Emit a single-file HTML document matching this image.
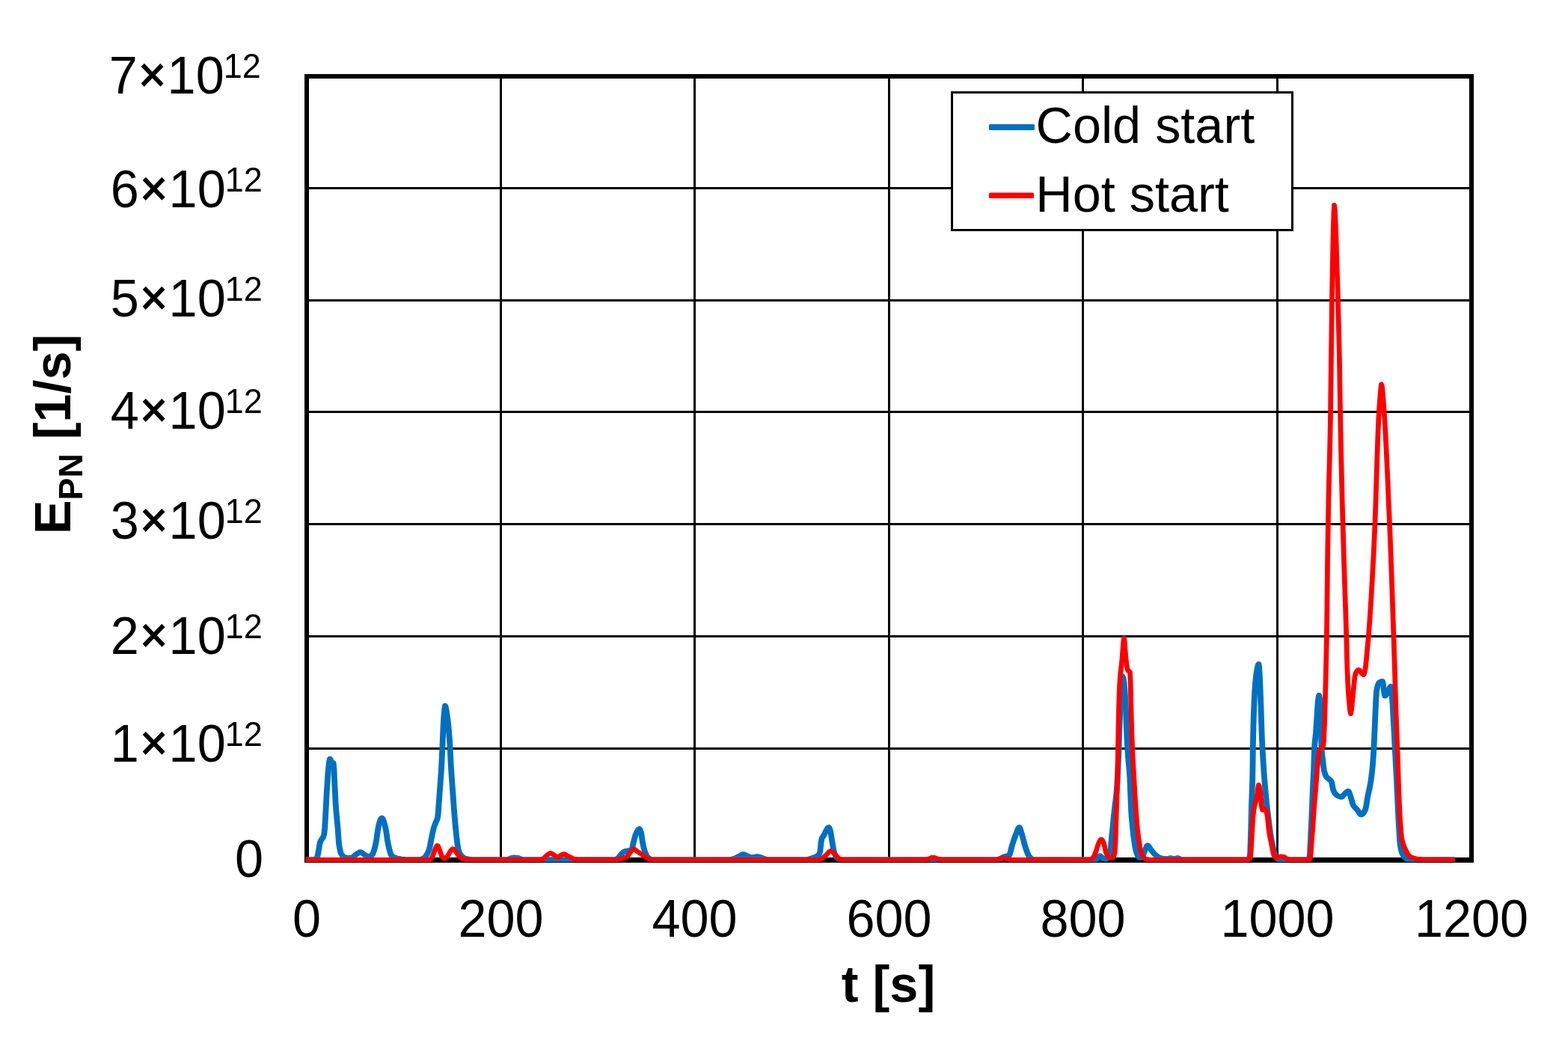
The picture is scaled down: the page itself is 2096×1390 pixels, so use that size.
<!DOCTYPE html>
<html lang="en"><head><meta charset="utf-8"><title>PN emission rate over time: cold start vs hot start</title>
<style>
html,body{margin:0;padding:0;background:#fff;}
body{width:2096px;height:1390px;overflow:hidden;}
svg{display:block;}
text{font-family:"Liberation Sans",sans-serif;fill:#000;font-size:68.4px;}
.b{font-weight:bold;}
.sup{font-size:45px;}
.sub{font-size:44.7px;}
.x{font-size:62.8px;stroke:#000;stroke-width:1.4px;}
</style></head><body>
<svg width="2096" height="1390" viewBox="0 0 2096 1390">
<defs><clipPath id="plotclip"><rect x="400" y="90" width="1580" height="1062"/></clipPath></defs>
<rect x="0" y="0" width="2096" height="1390" fill="#fff"/>
<g fill="#000" shape-rendering="crispEdges">
<rect x="668" y="102" width="3" height="1048"/>
<rect x="927" y="102" width="3" height="1048"/>
<rect x="1187" y="102" width="3" height="1048"/>
<rect x="1446" y="102" width="3" height="1048"/>
<rect x="1706" y="102" width="3" height="1048"/>
<rect x="410" y="250" width="1557" height="3"/>
<rect x="410" y="400" width="1557" height="3"/>
<rect x="410" y="549" width="1557" height="3"/>
<rect x="410" y="699" width="1557" height="3"/>
<rect x="410" y="849" width="1557" height="3"/>
<rect x="410" y="999" width="1557" height="3"/>
<rect x="407" y="99" width="1563" height="6"/>
<rect x="407" y="1146" width="1563" height="7"/>
<rect x="407" y="99" width="6" height="1054"/>
<rect x="1964" y="99" width="6" height="1054"/>
</g>
<g fill="none" stroke="#0070c0" stroke-width="7" stroke-linejoin="round" stroke-linecap="butt" clip-path="url(#plotclip)">
<polyline points="408.6,1149 419.6,1149 420.6,1148.8 421.5,1148.1 422.5,1147.2 423.4,1146 424.3,1143.5 425.1,1139.1 426,1133.9 426.8,1128.9 427.7,1125.4 428.6,1123.4 429.4,1122 430.3,1120.9 431.2,1119.7 432,1117.8 432.9,1115 433.8,1106.3 434.6,1092.6 435.5,1075.4 436.4,1058 437.3,1044.5 438.1,1032.5 439,1023.6 439.8,1017.3 440.6,1014.2 441.4,1015.3 442.1,1017.5 442.9,1019 443.7,1019.3 444.5,1019.5 445.3,1020 446,1027.6 446.6,1040.8 447.5,1058.7 448.3,1075.4 449.1,1085.4 449.9,1093.5 450.6,1101.2 451.4,1110 452,1119.3 452.6,1127 453.6,1133.6 454.6,1138.2 455.6,1141 456.5,1142.5 457.4,1143.8 458.2,1144.8 459.1,1145.5 460,1145.9 461,1146.1 461.9,1146.2 462.9,1146.3 463.8,1146.5 464.8,1146.5 465.7,1146.6 466.7,1146.7 467.6,1146.7 468.6,1146.7 469.6,1146.5 470.6,1146 471.6,1145.3 472.6,1144.4 473.6,1143.5 474.6,1142.7 475.6,1142 476.6,1141.4 477.6,1140.7 478.6,1140.1 479.6,1139.5 480.6,1139.1 481.6,1139 482.6,1139.2 483.6,1139.8 484.6,1140.5 485.6,1141.3 486.6,1142 487.5,1142.7 488.4,1143.5 489.3,1144.2 490.2,1144.8 491.1,1145 492,1144.9 492.9,1144.7 493.9,1144.4 494.8,1144 495.7,1143.6 496.6,1143 497.5,1141.9 498.4,1140 499.3,1137.4 500.2,1134.3 501.1,1130.8 502,1127 502.9,1122 503.7,1115.6 504.6,1110 505.6,1104.8 506.6,1100.2 507.6,1097 508.4,1095.2 509.3,1093.9 510.1,1093.3 510.9,1094 511.8,1095.8 512.6,1098 513.6,1101.1 514.6,1105.2 515.6,1110 516.5,1115.5 517.3,1121.8 518.2,1127 519.1,1130.9 519.9,1134.6 520.8,1138 521.7,1140.8 522.5,1142.8 523.4,1144 524.4,1144.7 525.4,1145.3 526.3,1145.8 527.3,1146.2 528.3,1146.6 529.3,1146.9 530.3,1147.2 531.3,1147.5 532.2,1147.7 533.2,1147.8 534.2,1148 535.1,1148.1 536.1,1148.3 537,1148.4 538,1148.5 538.9,1148.6 539.9,1148.7 540.8,1148.8 541.8,1148.9 542.7,1149 543.7,1149 544.6,1149 559.6,1149 560.5,1148.9 561.5,1148.8 562.4,1148.6 563.3,1148.3 564.2,1147.9 565.2,1147.5 566.1,1147 567,1146.4 567.9,1145.4 568.7,1144.3 569.6,1143 570.6,1141.5 571.5,1139.7 572.4,1137.6 573.4,1135 574.3,1131.6 575.1,1127.1 576,1122.2 576.9,1117.7 577.8,1113.5 578.7,1109.5 579.6,1106 580.6,1103 581.6,1100.4 582.4,1098.5 583.2,1096.9 584,1094.9 584.8,1091.8 585.5,1084.6 586.2,1074.5 586.8,1066.4 587.4,1058 588.1,1049.1 588.7,1040 589.3,1032.2 589.8,1023.6 590.6,1007 591.4,989 592.1,971.8 592.9,958 593.8,948 594.6,943.3 595.4,945.2 596.3,949.7 597.1,955 598,961.2 598.9,968.9 599.7,978.1 600.6,989 601.5,1005.6 602.4,1023.6 603.2,1035.9 604,1047.1 604.8,1058 605.7,1070 606.5,1081.8 607.4,1092.6 608.2,1102.1 609.1,1110.9 609.9,1118.5 610.7,1125.5 611.6,1131.7 612.4,1135.8 613.2,1138.2 614.1,1140.2 614.9,1141.8 615.8,1143.1 616.6,1144 617.6,1144.9 618.5,1145.7 619.5,1146.3 620.4,1146.9 621.4,1147.3 622.3,1147.6 623.2,1147.8 624.2,1148 625.1,1148.1 626.1,1148.3 627,1148.4 628,1148.6 628.9,1148.7 629.9,1148.8 630.8,1148.9 631.8,1148.9 632.7,1149 633.7,1149 634.6,1149 677.6,1149 678.6,1148.8 679.6,1148.4 680.6,1147.9 681.6,1147.4 682.6,1147 683.4,1146.8 684.3,1146.6 685.1,1146.5 686,1146.3 686.8,1146.3 687.8,1146.3 688.7,1146.4 689.7,1146.5 690.7,1146.7 691.6,1146.8 692.6,1147 693.6,1147.2 694.6,1147.6 695.6,1148 696.6,1148.3 697.6,1148.7 698.6,1148.9 699.6,1149 821.6,1149 822.6,1148.8 823.6,1148.3 824.6,1147.7 825.6,1147 826.6,1146.1 827.6,1144.8 828.6,1143.4 829.6,1142.1 830.6,1141 831.6,1140.1 832.6,1139.2 833.6,1138.5 834.6,1138 835.6,1137.7 836.6,1137.5 837.6,1137.4 838.6,1137.2 839.6,1137 840.5,1136.8 841.4,1136.6 842.3,1136.4 843.2,1136 844.1,1135.5 844.9,1133.5 845.6,1129.7 846.4,1126 847.2,1122.8 848,1119.7 848.8,1117 849.7,1114.4 850.7,1112.2 851.6,1110.5 852.5,1109.3 853.4,1108.3 854.3,1107.9 855.1,1108.7 855.8,1110.5 856.6,1113 857.6,1119.1 858.6,1126 859.5,1130.3 860.4,1134.2 861.3,1137.4 862.2,1140 863.1,1142 863.9,1143.7 864.8,1145.1 865.6,1146 866.6,1146.8 867.6,1147.5 868.6,1148.1 869.6,1148.6 870.6,1148.9 871.6,1149 974.6,1149 975.6,1148.9 976.6,1148.8 977.6,1148.5 978.6,1148.3 979.6,1148 980.6,1147.7 981.6,1147.3 982.6,1146.9 983.6,1146.4 984.6,1145.9 985.6,1145.5 986.6,1145 987.6,1144.5 988.5,1144 989.5,1143.4 990.4,1142.9 991.4,1142.4 992.3,1142.1 993.3,1142 994.2,1142.1 995.1,1142.4 996,1142.7 996.8,1143.2 997.7,1143.6 998.6,1144 999.6,1144.5 1000.6,1145 1001.6,1145.5 1002.6,1145.9 1003.6,1146 1004.5,1146 1005.4,1145.9 1006.4,1145.7 1007.3,1145.6 1008.2,1145.4 1009.1,1145.3 1010.1,1145.1 1011,1145 1011.9,1145 1012.9,1145.1 1013.8,1145.2 1014.8,1145.4 1015.8,1145.7 1016.7,1146.1 1017.7,1146.4 1018.6,1146.7 1019.6,1147 1020.6,1147.3 1021.6,1147.7 1022.6,1148.1 1023.6,1148.4 1024.6,1148.7 1025.6,1148.9 1026.6,1149 1077.6,1149 1078.6,1148.9 1079.6,1148.6 1080.6,1148.3 1081.6,1148 1082.6,1147.7 1083.6,1147.4 1084.6,1147.1 1085.6,1146.7 1086.6,1146.4 1087.6,1146 1088.5,1145.7 1089.4,1145.4 1090.3,1145 1091.3,1144.6 1092.2,1144.1 1093.1,1143.5 1094,1142.5 1095,1140.8 1095.9,1138 1096.5,1132.4 1097.1,1126 1097.8,1122.3 1098.4,1120 1099.3,1118.6 1100.2,1117.5 1101,1116 1101.9,1114.3 1102.8,1112.5 1103.6,1111 1104.5,1109.3 1105.5,1107.6 1106.4,1106.3 1107.4,1105.8 1108.2,1106.7 1109.1,1109.1 1109.9,1112 1110.6,1115.9 1111.4,1121.2 1112.1,1126 1113.1,1131.4 1114,1136.4 1115,1140 1115.9,1142.2 1116.8,1144.1 1117.7,1145.6 1118.6,1146.5 1119.6,1147.2 1120.6,1147.8 1121.6,1148.3 1122.6,1148.7 1123.6,1148.9 1124.6,1149 1331.6,1149 1332.6,1148.9 1333.6,1148.7 1334.6,1148.3 1335.6,1148 1336.5,1147.6 1337.5,1147.2 1338.4,1146.7 1339.4,1146.2 1340.3,1145.7 1341.3,1145.3 1342.2,1145 1343.1,1144.8 1344,1144.6 1344.9,1144.4 1345.8,1144.1 1346.7,1143.9 1347.6,1143.5 1348.5,1143 1349.4,1141.6 1350.2,1139 1351.1,1135.6 1351.9,1132.1 1352.8,1129 1353.8,1126 1354.7,1123 1355.7,1120.2 1356.6,1117.5 1357.6,1115 1358.5,1112.7 1359.4,1110.2 1360.3,1108 1361.2,1106.4 1362.1,1105.8 1363,1106.7 1363.8,1109.1 1364.7,1112 1365.6,1115 1366.6,1118.5 1367.6,1122.5 1368.6,1126.5 1369.6,1130 1370.6,1133.1 1371.6,1136.1 1372.6,1139 1373.6,1141.5 1374.6,1143.6 1375.6,1145 1376.6,1146 1377.6,1147 1378.6,1147.8 1379.6,1148.4 1380.6,1148.8 1381.6,1149 1463.6,1149 1464.6,1148.6 1465.6,1147.9 1466.6,1147 1467.4,1146.2 1468.3,1145.2 1469.2,1144.3 1470,1144 1470.9,1144.4 1471.8,1145.3 1472.7,1146.3 1473.6,1147 1474.6,1147.4 1475.6,1147.7 1476.6,1147.9 1477.6,1148 1478.5,1147.8 1479.3,1147.4 1480.2,1146.8 1481.1,1146 1482.1,1144.8 1483.1,1142.7 1484.1,1139 1485,1126 1485.8,1117.1 1486.7,1109 1487.6,1100.2 1488.4,1091.4 1489.3,1083 1490.3,1074.7 1491.3,1066.8 1492.3,1057 1492.8,1049.4 1493.4,1040 1494.2,1022.7 1495.1,1002 1496.1,970.7 1497.1,940 1497.7,925.3 1498.3,915 1499.2,907.3 1500.1,904 1501.1,906.5 1502.1,912 1502.9,920.8 1503.8,933.6 1504.6,949 1505.3,968.1 1506.1,987.3 1506.9,1002.6 1507.7,1012.8 1508.4,1020.8 1509.2,1029.1 1510,1040 1510.8,1061.6 1511.7,1083 1512.4,1093.5 1513.2,1101.8 1513.9,1109 1514.6,1115.6 1515.4,1121.3 1516.1,1126.3 1516.9,1131.4 1517.8,1135.9 1518.6,1139 1519.6,1141.6 1520.6,1143.9 1521.6,1145.4 1522.6,1146 1525.6,1146 1526.6,1145.1 1527.6,1143 1528.6,1140.4 1529.6,1138 1530.6,1135.6 1531.6,1133 1532.6,1130.9 1533.6,1130 1534.6,1130.6 1535.6,1131.9 1536.6,1133.5 1537.6,1135 1538.6,1136.2 1539.6,1137.5 1540.6,1138.8 1541.6,1140 1542.6,1141.1 1543.6,1142.1 1544.6,1143 1545.6,1143.8 1546.6,1144.5 1547.6,1145.2 1548.6,1145.8 1549.6,1146.3 1550.6,1146.7 1551.6,1147 1552.6,1147.2 1553.6,1147.4 1554.6,1147.6 1555.6,1147.7 1556.6,1147.8 1557.6,1147.9 1558.6,1148 1559.6,1148 1560.5,1147.9 1561.4,1147.6 1562.3,1147.4 1563.2,1147.1 1564.1,1147 1565,1147.1 1565.9,1147.4 1566.8,1147.6 1567.7,1147.9 1568.6,1148 1569.6,1147.9 1570.6,1147.6 1571.6,1147.4 1572.6,1147.1 1573.6,1147 1574.6,1147.1 1575.6,1147.5 1576.6,1148 1577.6,1148.5 1578.6,1148.9 1579.6,1149 1666.1,1149 1666.9,1148.9 1667.8,1148.6 1668.6,1148.2 1669.4,1147.5 1670.1,1145.2 1670.8,1140 1671.8,1109 1672.6,1076 1673.2,1059.3 1673.9,1040 1674.6,989.6 1675.3,960.6 1676.1,939.2 1676.8,924.8 1677.7,912.4 1678.7,903.3 1679.6,897 1680.5,892.5 1681.3,889 1682.2,887.6 1682.9,893.7 1683.7,908.2 1684.4,924.8 1685.1,945.3 1685.9,969.7 1686.6,989.6 1687.5,1006.2 1688.4,1020.8 1689.2,1033.6 1690.1,1045 1691,1055.3 1691.9,1065 1692.8,1074.3 1693.8,1082.6 1694.7,1090.3 1695.6,1097.5 1696.6,1105.2 1697.6,1112.6 1698.6,1119.4 1699.6,1125 1700.5,1129.3 1701.4,1133.5 1702.2,1137.4 1703.1,1140.7 1704,1143.3 1704.9,1145 1705.8,1146.2 1706.8,1147.3 1707.7,1148.2 1708.7,1148.8 1709.6,1149 1746.6,1149 1747.5,1148.8 1748.5,1148.3 1749.4,1147.5 1749.9,1145.7 1750.5,1142 1751.4,1125 1751.9,1113.7 1752.5,1102 1753.5,1080 1754,1065.8 1754.6,1052 1755.1,1041.6 1755.7,1030 1756.1,1016 1756.7,999 1757.2,992.2 1757.8,987 1758.5,980 1759.2,970.5 1759.9,960 1760.6,947.9 1761.4,938 1762.1,932.1 1762.8,929.3 1763.7,933.7 1764.6,945 1765.4,975 1766.1,1000 1767,1009.4 1767.9,1016 1768.8,1025 1769.4,1029.1 1770.1,1032 1771.1,1035.3 1772.1,1037.5 1772.9,1038.6 1773.8,1039.4 1774.6,1040.1 1775.5,1040.7 1776.3,1041.5 1777.1,1042.2 1777.9,1042.8 1778.8,1043.7 1779.6,1045 1780.6,1050 1781.2,1053.3 1781.9,1056 1782.7,1057.8 1783.4,1059.3 1784.2,1060.4 1785,1061.3 1785.9,1062.1 1786.8,1062.9 1787.8,1063.5 1788.7,1064 1789.6,1064.3 1790.5,1064.6 1791.3,1064.8 1792.2,1064.9 1793.1,1065 1794,1064.6 1794.8,1063.6 1795.7,1062.5 1796.6,1061.5 1797.5,1060.7 1798.4,1059.8 1799.2,1058.9 1800.1,1058.2 1801,1057.7 1801.9,1057.5 1802.7,1058.3 1803.5,1060.2 1804.3,1062.6 1805.1,1065 1805.9,1067.7 1806.8,1070.8 1807.6,1073.7 1808.4,1075.8 1809.3,1077.3 1810.2,1078.5 1811.1,1079.5 1812,1080.4 1812.9,1081.3 1813.8,1082.3 1814.7,1083.5 1815.6,1084.9 1816.5,1086.4 1817.4,1087.6 1818.3,1088.5 1819.2,1088.8 1820.1,1088.6 1821,1087.9 1821.9,1087 1822.8,1085.7 1823.7,1084.1 1824.6,1082.3 1825.4,1079.4 1826.2,1074.9 1827,1069.7 1827.8,1065 1828.7,1060.8 1829.5,1057 1830.4,1053.1 1831.2,1048.7 1832.1,1043.5 1832.9,1037.4 1833.8,1030.1 1834.6,1021.4 1835.4,1011 1836.1,998.8 1836.8,983.4 1837.5,968 1838.2,951.4 1838.9,934.7 1839.6,924.7 1840.4,920 1841.2,916.5 1842.1,914.2 1842.9,912.9 1843.8,912.1 1844.8,911.5 1845.7,911.1 1846.7,910.8 1847.6,910.7 1848.4,913.7 1849.2,920.4 1850.1,927 1850.9,930 1851.8,929.5 1852.8,928.2 1853.7,926.6 1854.6,925 1855.4,923.4 1856.3,921.4 1857.1,919.5 1858,918.1 1858.8,917.5 1859.6,921.1 1860.3,929.7 1861.1,940 1861.8,953 1862.6,968 1863.4,982.3 1864.1,996.5 1864.9,1011 1865.6,1025 1866.4,1039.3 1867.1,1054 1868.1,1076.3 1869.1,1097 1869.9,1110.5 1870.6,1122.4 1871.4,1130 1872.3,1134.7 1873.2,1138.3 1874.2,1140.9 1875.1,1142.7 1876,1144.1 1876.9,1145.3 1877.8,1146.3 1878.8,1147.1 1879.7,1147.7 1880.6,1148 1881.6,1148.2 1882.6,1148.4 1883.6,1148.5 1884.6,1148.7 1885.6,1148.8 1886.6,1148.9 1887.6,1148.9 1888.6,1149 1889.6,1149 1944.1,1149"/>
<polyline transform="translate(0.8,0)" points="408.6,1149 419.6,1149 420.6,1148.8 421.5,1148.1 422.5,1147.2 423.4,1146 424.3,1143.5 425.1,1139.1 426,1133.9 426.8,1128.9 427.7,1125.4 428.6,1123.4 429.4,1122 430.3,1120.9 431.2,1119.7 432,1117.8 432.9,1115 433.8,1106.3 434.6,1092.6 435.5,1075.4 436.4,1058 437.3,1044.5 438.1,1032.5 439,1023.6 439.8,1017.3 440.6,1014.2 441.4,1015.3 442.1,1017.5 442.9,1019 443.7,1019.3 444.5,1019.5 445.3,1020 446,1027.6 446.6,1040.8 447.5,1058.7 448.3,1075.4 449.1,1085.4 449.9,1093.5 450.6,1101.2 451.4,1110 452,1119.3 452.6,1127 453.6,1133.6 454.6,1138.2 455.6,1141 456.5,1142.5 457.4,1143.8 458.2,1144.8 459.1,1145.5 460,1145.9 461,1146.1 461.9,1146.2 462.9,1146.3 463.8,1146.5 464.8,1146.5 465.7,1146.6 466.7,1146.7 467.6,1146.7 468.6,1146.7 469.6,1146.5 470.6,1146 471.6,1145.3 472.6,1144.4 473.6,1143.5 474.6,1142.7 475.6,1142 476.6,1141.4 477.6,1140.7 478.6,1140.1 479.6,1139.5 480.6,1139.1 481.6,1139 482.6,1139.2 483.6,1139.8 484.6,1140.5 485.6,1141.3 486.6,1142 487.5,1142.7 488.4,1143.5 489.3,1144.2 490.2,1144.8 491.1,1145 492,1144.9 492.9,1144.7 493.9,1144.4 494.8,1144 495.7,1143.6 496.6,1143 497.5,1141.9 498.4,1140 499.3,1137.4 500.2,1134.3 501.1,1130.8 502,1127 502.9,1122 503.7,1115.6 504.6,1110 505.6,1104.8 506.6,1100.2 507.6,1097 508.4,1095.2 509.3,1093.9 510.1,1093.3 510.9,1094 511.8,1095.8 512.6,1098 513.6,1101.1 514.6,1105.2 515.6,1110 516.5,1115.5 517.3,1121.8 518.2,1127 519.1,1130.9 519.9,1134.6 520.8,1138 521.7,1140.8 522.5,1142.8 523.4,1144 524.4,1144.7 525.4,1145.3 526.3,1145.8 527.3,1146.2 528.3,1146.6 529.3,1146.9 530.3,1147.2 531.3,1147.5 532.2,1147.7 533.2,1147.8 534.2,1148 535.1,1148.1 536.1,1148.3 537,1148.4 538,1148.5 538.9,1148.6 539.9,1148.7 540.8,1148.8 541.8,1148.9 542.7,1149 543.7,1149 544.6,1149 559.6,1149 560.5,1148.9 561.5,1148.8 562.4,1148.6 563.3,1148.3 564.2,1147.9 565.2,1147.5 566.1,1147 567,1146.4 567.9,1145.4 568.7,1144.3 569.6,1143 570.6,1141.5 571.5,1139.7 572.4,1137.6 573.4,1135 574.3,1131.6 575.1,1127.1 576,1122.2 576.9,1117.7 577.8,1113.5 578.7,1109.5 579.6,1106 580.6,1103 581.6,1100.4 582.4,1098.5 583.2,1096.9 584,1094.9 584.8,1091.8 585.5,1084.6 586.2,1074.5 586.8,1066.4 587.4,1058 588.1,1049.1 588.7,1040 589.3,1032.2 589.8,1023.6 590.6,1007 591.4,989 592.1,971.8 592.9,958 593.8,948 594.6,943.3 595.4,945.2 596.3,949.7 597.1,955 598,961.2 598.9,968.9 599.7,978.1 600.6,989 601.5,1005.6 602.4,1023.6 603.2,1035.9 604,1047.1 604.8,1058 605.7,1070 606.5,1081.8 607.4,1092.6 608.2,1102.1 609.1,1110.9 609.9,1118.5 610.7,1125.5 611.6,1131.7 612.4,1135.8 613.2,1138.2 614.1,1140.2 614.9,1141.8 615.8,1143.1 616.6,1144 617.6,1144.9 618.5,1145.7 619.5,1146.3 620.4,1146.9 621.4,1147.3 622.3,1147.6 623.2,1147.8 624.2,1148 625.1,1148.1 626.1,1148.3 627,1148.4 628,1148.6 628.9,1148.7 629.9,1148.8 630.8,1148.9 631.8,1148.9 632.7,1149 633.7,1149 634.6,1149 677.6,1149 678.6,1148.8 679.6,1148.4 680.6,1147.9 681.6,1147.4 682.6,1147 683.4,1146.8 684.3,1146.6 685.1,1146.5 686,1146.3 686.8,1146.3 687.8,1146.3 688.7,1146.4 689.7,1146.5 690.7,1146.7 691.6,1146.8 692.6,1147 693.6,1147.2 694.6,1147.6 695.6,1148 696.6,1148.3 697.6,1148.7 698.6,1148.9 699.6,1149 821.6,1149 822.6,1148.8 823.6,1148.3 824.6,1147.7 825.6,1147 826.6,1146.1 827.6,1144.8 828.6,1143.4 829.6,1142.1 830.6,1141 831.6,1140.1 832.6,1139.2 833.6,1138.5 834.6,1138 835.6,1137.7 836.6,1137.5 837.6,1137.4 838.6,1137.2 839.6,1137 840.5,1136.8 841.4,1136.6 842.3,1136.4 843.2,1136 844.1,1135.5 844.9,1133.5 845.6,1129.7 846.4,1126 847.2,1122.8 848,1119.7 848.8,1117 849.7,1114.4 850.7,1112.2 851.6,1110.5 852.5,1109.3 853.4,1108.3 854.3,1107.9 855.1,1108.7 855.8,1110.5 856.6,1113 857.6,1119.1 858.6,1126 859.5,1130.3 860.4,1134.2 861.3,1137.4 862.2,1140 863.1,1142 863.9,1143.7 864.8,1145.1 865.6,1146 866.6,1146.8 867.6,1147.5 868.6,1148.1 869.6,1148.6 870.6,1148.9 871.6,1149 974.6,1149 975.6,1148.9 976.6,1148.8 977.6,1148.5 978.6,1148.3 979.6,1148 980.6,1147.7 981.6,1147.3 982.6,1146.9 983.6,1146.4 984.6,1145.9 985.6,1145.5 986.6,1145 987.6,1144.5 988.5,1144 989.5,1143.4 990.4,1142.9 991.4,1142.4 992.3,1142.1 993.3,1142 994.2,1142.1 995.1,1142.4 996,1142.7 996.8,1143.2 997.7,1143.6 998.6,1144 999.6,1144.5 1000.6,1145 1001.6,1145.5 1002.6,1145.9 1003.6,1146 1004.5,1146 1005.4,1145.9 1006.4,1145.7 1007.3,1145.6 1008.2,1145.4 1009.1,1145.3 1010.1,1145.1 1011,1145 1011.9,1145 1012.9,1145.1 1013.8,1145.2 1014.8,1145.4 1015.8,1145.7 1016.7,1146.1 1017.7,1146.4 1018.6,1146.7 1019.6,1147 1020.6,1147.3 1021.6,1147.7 1022.6,1148.1 1023.6,1148.4 1024.6,1148.7 1025.6,1148.9 1026.6,1149 1077.6,1149 1078.6,1148.9 1079.6,1148.6 1080.6,1148.3 1081.6,1148 1082.6,1147.7 1083.6,1147.4 1084.6,1147.1 1085.6,1146.7 1086.6,1146.4 1087.6,1146 1088.5,1145.7 1089.4,1145.4 1090.3,1145 1091.3,1144.6 1092.2,1144.1 1093.1,1143.5 1094,1142.5 1095,1140.8 1095.9,1138 1096.5,1132.4 1097.1,1126 1097.8,1122.3 1098.4,1120 1099.3,1118.6 1100.2,1117.5 1101,1116 1101.9,1114.3 1102.8,1112.5 1103.6,1111 1104.5,1109.3 1105.5,1107.6 1106.4,1106.3 1107.4,1105.8 1108.2,1106.7 1109.1,1109.1 1109.9,1112 1110.6,1115.9 1111.4,1121.2 1112.1,1126 1113.1,1131.4 1114,1136.4 1115,1140 1115.9,1142.2 1116.8,1144.1 1117.7,1145.6 1118.6,1146.5 1119.6,1147.2 1120.6,1147.8 1121.6,1148.3 1122.6,1148.7 1123.6,1148.9 1124.6,1149 1331.6,1149 1332.6,1148.9 1333.6,1148.7 1334.6,1148.3 1335.6,1148 1336.5,1147.6 1337.5,1147.2 1338.4,1146.7 1339.4,1146.2 1340.3,1145.7 1341.3,1145.3 1342.2,1145 1343.1,1144.8 1344,1144.6 1344.9,1144.4 1345.8,1144.1 1346.7,1143.9 1347.6,1143.5 1348.5,1143 1349.4,1141.6 1350.2,1139 1351.1,1135.6 1351.9,1132.1 1352.8,1129 1353.8,1126 1354.7,1123 1355.7,1120.2 1356.6,1117.5 1357.6,1115 1358.5,1112.7 1359.4,1110.2 1360.3,1108 1361.2,1106.4 1362.1,1105.8 1363,1106.7 1363.8,1109.1 1364.7,1112 1365.6,1115 1366.6,1118.5 1367.6,1122.5 1368.6,1126.5 1369.6,1130 1370.6,1133.1 1371.6,1136.1 1372.6,1139 1373.6,1141.5 1374.6,1143.6 1375.6,1145 1376.6,1146 1377.6,1147 1378.6,1147.8 1379.6,1148.4 1380.6,1148.8 1381.6,1149 1463.6,1149 1464.6,1148.6 1465.6,1147.9 1466.6,1147 1467.4,1146.2 1468.3,1145.2 1469.2,1144.3 1470,1144 1470.9,1144.4 1471.8,1145.3 1472.7,1146.3 1473.6,1147 1474.6,1147.4 1475.6,1147.7 1476.6,1147.9 1477.6,1148 1478.5,1147.8 1479.3,1147.4 1480.2,1146.8 1481.1,1146 1482.1,1144.8 1483.1,1142.7 1484.1,1139 1485,1126 1485.8,1117.1 1486.7,1109 1487.6,1100.2 1488.4,1091.4 1489.3,1083 1490.3,1074.7 1491.3,1066.8 1492.3,1057 1492.8,1049.4 1493.4,1040 1494.2,1022.7 1495.1,1002 1496.1,970.7 1497.1,940 1497.7,925.3 1498.3,915 1499.2,907.3 1500.1,904 1501.1,906.5 1502.1,912 1502.9,920.8 1503.8,933.6 1504.6,949 1505.3,968.1 1506.1,987.3 1506.9,1002.6 1507.7,1012.8 1508.4,1020.8 1509.2,1029.1 1510,1040 1510.8,1061.6 1511.7,1083 1512.4,1093.5 1513.2,1101.8 1513.9,1109 1514.6,1115.6 1515.4,1121.3 1516.1,1126.3 1516.9,1131.4 1517.8,1135.9 1518.6,1139 1519.6,1141.6 1520.6,1143.9 1521.6,1145.4 1522.6,1146 1525.6,1146 1526.6,1145.1 1527.6,1143 1528.6,1140.4 1529.6,1138 1530.6,1135.6 1531.6,1133 1532.6,1130.9 1533.6,1130 1534.6,1130.6 1535.6,1131.9 1536.6,1133.5 1537.6,1135 1538.6,1136.2 1539.6,1137.5 1540.6,1138.8 1541.6,1140 1542.6,1141.1 1543.6,1142.1 1544.6,1143 1545.6,1143.8 1546.6,1144.5 1547.6,1145.2 1548.6,1145.8 1549.6,1146.3 1550.6,1146.7 1551.6,1147 1552.6,1147.2 1553.6,1147.4 1554.6,1147.6 1555.6,1147.7 1556.6,1147.8 1557.6,1147.9 1558.6,1148 1559.6,1148 1560.5,1147.9 1561.4,1147.6 1562.3,1147.4 1563.2,1147.1 1564.1,1147 1565,1147.1 1565.9,1147.4 1566.8,1147.6 1567.7,1147.9 1568.6,1148 1569.6,1147.9 1570.6,1147.6 1571.6,1147.4 1572.6,1147.1 1573.6,1147 1574.6,1147.1 1575.6,1147.5 1576.6,1148 1577.6,1148.5 1578.6,1148.9 1579.6,1149 1666.1,1149 1666.9,1148.9 1667.8,1148.6 1668.6,1148.2 1669.4,1147.5 1670.1,1145.2 1670.8,1140 1671.8,1109 1672.6,1076 1673.2,1059.3 1673.9,1040 1674.6,989.6 1675.3,960.6 1676.1,939.2 1676.8,924.8 1677.7,912.4 1678.7,903.3 1679.6,897 1680.5,892.5 1681.3,889 1682.2,887.6 1682.9,893.7 1683.7,908.2 1684.4,924.8 1685.1,945.3 1685.9,969.7 1686.6,989.6 1687.5,1006.2 1688.4,1020.8 1689.2,1033.6 1690.1,1045 1691,1055.3 1691.9,1065 1692.8,1074.3 1693.8,1082.6 1694.7,1090.3 1695.6,1097.5 1696.6,1105.2 1697.6,1112.6 1698.6,1119.4 1699.6,1125 1700.5,1129.3 1701.4,1133.5 1702.2,1137.4 1703.1,1140.7 1704,1143.3 1704.9,1145 1705.8,1146.2 1706.8,1147.3 1707.7,1148.2 1708.7,1148.8 1709.6,1149 1746.6,1149 1747.5,1148.8 1748.5,1148.3 1749.4,1147.5 1749.9,1145.7 1750.5,1142 1751.4,1125 1751.9,1113.7 1752.5,1102 1753.5,1080 1754,1065.8 1754.6,1052 1755.1,1041.6 1755.7,1030 1756.1,1016 1756.7,999 1757.2,992.2 1757.8,987 1758.5,980 1759.2,970.5 1759.9,960 1760.6,947.9 1761.4,938 1762.1,932.1 1762.8,929.3 1763.7,933.7 1764.6,945 1765.4,975 1766.1,1000 1767,1009.4 1767.9,1016 1768.8,1025 1769.4,1029.1 1770.1,1032 1771.1,1035.3 1772.1,1037.5 1772.9,1038.6 1773.8,1039.4 1774.6,1040.1 1775.5,1040.7 1776.3,1041.5 1777.1,1042.2 1777.9,1042.8 1778.8,1043.7 1779.6,1045 1780.6,1050 1781.2,1053.3 1781.9,1056 1782.7,1057.8 1783.4,1059.3 1784.2,1060.4 1785,1061.3 1785.9,1062.1 1786.8,1062.9 1787.8,1063.5 1788.7,1064 1789.6,1064.3 1790.5,1064.6 1791.3,1064.8 1792.2,1064.9 1793.1,1065 1794,1064.6 1794.8,1063.6 1795.7,1062.5 1796.6,1061.5 1797.5,1060.7 1798.4,1059.8 1799.2,1058.9 1800.1,1058.2 1801,1057.7 1801.9,1057.5 1802.7,1058.3 1803.5,1060.2 1804.3,1062.6 1805.1,1065 1805.9,1067.7 1806.8,1070.8 1807.6,1073.7 1808.4,1075.8 1809.3,1077.3 1810.2,1078.5 1811.1,1079.5 1812,1080.4 1812.9,1081.3 1813.8,1082.3 1814.7,1083.5 1815.6,1084.9 1816.5,1086.4 1817.4,1087.6 1818.3,1088.5 1819.2,1088.8 1820.1,1088.6 1821,1087.9 1821.9,1087 1822.8,1085.7 1823.7,1084.1 1824.6,1082.3 1825.4,1079.4 1826.2,1074.9 1827,1069.7 1827.8,1065 1828.7,1060.8 1829.5,1057 1830.4,1053.1 1831.2,1048.7 1832.1,1043.5 1832.9,1037.4 1833.8,1030.1 1834.6,1021.4 1835.4,1011 1836.1,998.8 1836.8,983.4 1837.5,968 1838.2,951.4 1838.9,934.7 1839.6,924.7 1840.4,920 1841.2,916.5 1842.1,914.2 1842.9,912.9 1843.8,912.1 1844.8,911.5 1845.7,911.1 1846.7,910.8 1847.6,910.7 1848.4,913.7 1849.2,920.4 1850.1,927 1850.9,930 1851.8,929.5 1852.8,928.2 1853.7,926.6 1854.6,925 1855.4,923.4 1856.3,921.4 1857.1,919.5 1858,918.1 1858.8,917.5 1859.6,921.1 1860.3,929.7 1861.1,940 1861.8,953 1862.6,968 1863.4,982.3 1864.1,996.5 1864.9,1011 1865.6,1025 1866.4,1039.3 1867.1,1054 1868.1,1076.3 1869.1,1097 1869.9,1110.5 1870.6,1122.4 1871.4,1130 1872.3,1134.7 1873.2,1138.3 1874.2,1140.9 1875.1,1142.7 1876,1144.1 1876.9,1145.3 1877.8,1146.3 1878.8,1147.1 1879.7,1147.7 1880.6,1148 1881.6,1148.2 1882.6,1148.4 1883.6,1148.5 1884.6,1148.7 1885.6,1148.8 1886.6,1148.9 1887.6,1148.9 1888.6,1149 1889.6,1149 1944.1,1149"/>
</g>
<g fill="none" stroke="#ff0000" stroke-width="6" stroke-linejoin="round" stroke-linecap="butt" clip-path="url(#plotclip)">
<polyline points="408.6,1149 573.6,1149 574.5,1148.7 575.4,1148.1 576.3,1147.1 577.1,1146 578,1144.3 578.9,1141.9 579.8,1139.3 580.6,1137 581.5,1134.8 582.4,1132.5 583.4,1130.7 584.2,1130 585.1,1130.7 585.9,1132.5 586.8,1134.8 587.6,1137 588.6,1139.9 589.6,1142.9 590.6,1145 591.5,1146 592.4,1146.8 593.3,1147.3 594.1,1147.5 595,1147.2 595.9,1146.5 596.9,1145.4 597.8,1144.2 598.6,1143 599.5,1141.6 600.4,1139.9 601.3,1138.3 602.1,1137 602.9,1136.1 603.7,1135.3 604.5,1134.7 605.2,1134.5 606.1,1134.9 606.9,1135.8 607.8,1136.9 608.6,1138 609.6,1139.3 610.6,1140.7 611.6,1142.2 612.6,1143.5 613.6,1144.5 614.6,1145.3 615.6,1146.1 616.6,1146.8 617.6,1147.4 618.6,1147.9 619.6,1148.3 620.6,1148.5 621.6,1148.6 622.6,1148.7 623.6,1148.8 624.6,1148.8 625.6,1148.9 626.6,1148.9 627.6,1149 628.6,1149 629.6,1149 721.6,1149 722.6,1148.9 723.6,1148.7 724.6,1148.4 725.6,1148 726.6,1147.3 727.6,1146.2 728.6,1145 729.6,1144 730.6,1143.2 731.6,1142.4 732.6,1141.6 733.6,1140.9 734.6,1140.5 735.5,1140.3 736.4,1140.4 737.2,1140.8 738.1,1141.3 738.9,1141.8 739.8,1142.4 740.6,1143 741.5,1143.6 742.3,1144.4 743.2,1145.2 744,1145.8 744.9,1146 745.8,1145.7 746.8,1145 747.7,1144.2 748.6,1143.5 749.6,1143 750.6,1142.4 751.5,1142 752.5,1141.6 753.4,1141.5 754.3,1141.6 755.2,1142 756,1142.4 756.9,1143 757.8,1143.5 758.6,1144 759.6,1144.5 760.6,1145 761.6,1145.5 762.6,1146 763.6,1146.5 764.6,1147 765.6,1147.5 766.5,1147.9 767.5,1148.3 768.4,1148.5 769.3,1148.6 770.2,1148.7 771.1,1148.8 772,1148.9 772.9,1149 773.8,1149 774.6,1149 821.6,1149 822.6,1149 823.6,1148.8 824.6,1148.7 825.6,1148.5 826.6,1148.3 827.6,1148.1 828.5,1147.8 829.5,1147.6 830.5,1147.3 831.4,1147 832.3,1146.8 833.2,1146.5 834.1,1146.3 835,1146.1 835.9,1145.8 836.8,1145.4 837.6,1145 838.6,1144.1 839.6,1142.8 840.6,1141.3 841.6,1140 842.6,1138.7 843.6,1137.3 844.5,1136 845.5,1135 846.4,1134.6 847.3,1134.8 848.2,1135.2 849,1135.9 849.9,1136.6 850.8,1137.4 851.6,1138 852.6,1138.7 853.6,1139.3 854.6,1140 855.6,1140.7 856.6,1141.3 857.6,1142 858.6,1142.7 859.6,1143.4 860.6,1144.1 861.6,1144.8 862.6,1145.4 863.6,1146 864.6,1146.6 865.6,1147.2 866.6,1147.8 867.6,1148.2 868.6,1148.5 869.6,1148.6 870.6,1148.8 871.6,1148.9 872.6,1148.9 873.6,1149 874.6,1149 1092.7,1149 1093.6,1148.9 1094.5,1148.8 1095.4,1148.6 1096.2,1148.3 1097.2,1148 1098.1,1147.6 1099,1147 1099.9,1146.3 1100.9,1145.5 1101.8,1144.6 1102.7,1143.8 1103.7,1143 1104.6,1142.1 1105.5,1141.2 1106.4,1140.1 1107.3,1139.1 1108.2,1138.3 1109.1,1137.7 1110.1,1137.5 1111,1137.7 1111.9,1138.3 1112.9,1139.2 1113.8,1140.1 1114.7,1141.1 1115.7,1142 1116.6,1142.8 1117.5,1143.8 1118.4,1144.8 1119.2,1145.9 1120.2,1146.8 1121.1,1147.6 1122,1148.2 1122.9,1148.5 1123.8,1148.7 1124.8,1148.8 1125.7,1148.9 1126.7,1149 1127.7,1149 1235.7,1149 1236.7,1149 1237.7,1148.8 1238.7,1148.7 1239.7,1148.5 1240.6,1148.2 1241.5,1147.8 1242.5,1147.3 1243.4,1146.9 1244.4,1146.4 1245.3,1146.1 1246.2,1146 1247.2,1146.1 1248.1,1146.2 1249.1,1146.4 1250,1146.7 1251,1147.1 1251.9,1147.4 1252.8,1147.7 1253.8,1148 1254.7,1148.3 1255.7,1148.5 1256.7,1148.7 1257.7,1148.8 1258.7,1149 1259.7,1149 1331.7,1149 1332.6,1148.9 1333.6,1148.8 1334.6,1148.6 1335.5,1148.3 1336.5,1148 1337.5,1147.7 1338.4,1147.4 1339.4,1147.2 1340.4,1147.1 1341.4,1147 1342.3,1147 1343.2,1147.1 1344.1,1147.3 1345,1147.5 1346,1147.7 1346.9,1148 1347.8,1148.2 1348.7,1148.4 1349.7,1148.5 1350.7,1148.6 1351.7,1148.8 1352.7,1148.9 1353.7,1149 1354.7,1149 1455.7,1149 1456.6,1148.9 1457.5,1148.6 1458.4,1148.2 1459.3,1147.6 1460.2,1147 1461.1,1146 1462,1144.4 1462.9,1142.4 1463.8,1140.2 1464.7,1138 1465.5,1135.4 1466.4,1132.3 1467.3,1129.3 1468.2,1127 1469.1,1125.2 1470,1123.4 1470.8,1122.2 1471.8,1121.7 1472.6,1122.2 1473.5,1123.4 1474.3,1125.1 1475.2,1127 1476.2,1130.9 1477.2,1136.1 1478.2,1140 1479,1141.8 1479.8,1143.4 1480.6,1144.6 1481.4,1145.6 1482.2,1146 1483.1,1146.2 1484,1146.3 1484.9,1146.4 1485.8,1146.5 1486.7,1146.5 1487.4,1146.1 1488.2,1144.9 1489,1142.9 1489.8,1140 1490.7,1126.3 1491.3,1106.5 1492,1083.2 1492.7,1063.7 1493.5,1040 1494.1,1002 1494.8,966 1495.5,935.7 1496.2,916 1497.1,903.8 1498,895.2 1498.8,888 1499.7,880 1500.5,868.9 1501.3,857.7 1502.2,852.6 1503,858.2 1503.8,869.9 1504.7,880 1505.5,886.9 1506.3,892.8 1507.2,896 1508.2,896.9 1509.2,897.3 1510.2,898.5 1510.9,915.6 1511.7,950.8 1512.5,979.7 1513.4,1002.6 1514.1,1016.7 1514.8,1028.5 1515.5,1040 1516.3,1055.1 1517.2,1069.9 1518.1,1083 1518.8,1092.7 1519.5,1101.4 1520.2,1109 1521,1115.6 1521.7,1121.3 1522.5,1126.3 1523.3,1131.3 1524.1,1135.7 1525,1139 1525.9,1141.6 1526.8,1143.6 1527.7,1145 1528.6,1146 1529.5,1147 1530.5,1147.7 1531.4,1148.2 1532.4,1148.5 1533.3,1148.6 1534.2,1148.7 1535.1,1148.8 1536,1148.9 1536.9,1148.9 1537.8,1149 1538.7,1149 1539.7,1149 1667.7,1149 1668.6,1148.8 1669.5,1148.4 1670.5,1147.5 1671.2,1144 1672,1135 1672.7,1122.4 1673.5,1109 1674,1099.6 1674.6,1091.8 1675.4,1084.2 1676.2,1078.8 1677.1,1075 1678,1072.2 1678.8,1069.4 1679.7,1065.9 1680.5,1059.7 1681.4,1052.4 1682.2,1049 1683,1051 1683.9,1055.9 1684.7,1062 1685.2,1069.1 1685.9,1076 1686.5,1080.4 1687.2,1082.5 1688.2,1081.8 1689.2,1081 1691.2,1081 1691.9,1082.8 1692.7,1086 1693.3,1088.5 1694,1091.8 1694.8,1100.1 1695.7,1109 1696.5,1114.2 1697.2,1118.5 1698.1,1122.3 1698.9,1126.3 1699.7,1130.8 1700.6,1135 1701.3,1138.3 1702,1141.4 1702.8,1143.6 1703.7,1145.6 1704.7,1146.5 1705.7,1146.2 1706.7,1145.6 1707.7,1145.2 1708.7,1145 1709.7,1144.9 1710.7,1144.8 1711.7,1144.8 1712.7,1144.8 1713.7,1144.9 1714.7,1145 1715.7,1145.2 1716.7,1145.6 1717.7,1146.3 1718.7,1147 1719.5,1147.5 1720.3,1148 1721.1,1148.5 1722,1148.7 1722.9,1148.8 1723.8,1148.9 1724.7,1149 1725.7,1149 1748.7,1149 1749.4,1148.9 1750.2,1148.4 1751,1147.5 1751.7,1142.4 1752.7,1128 1753.4,1119 1754.2,1110 1754.9,1100 1755.5,1089.8 1756.2,1080 1757,1070.2 1757.8,1061.3 1758.6,1052 1759.4,1040.9 1760.2,1030.4 1760.9,1022.7 1761.7,1016 1762.4,1009.8 1763.1,1005.2 1763.8,1002.8 1764.5,1001.1 1765.2,1000 1766.2,999.2 1767.2,998.6 1768.2,997.5 1768.8,994.2 1769.4,987 1769.8,975 1770.2,968 1771,939.4 1771.9,903 1772.9,860 1773.6,810.9 1774.2,751.1 1775,700 1775.7,661.5 1776.5,630.4 1777.3,599.1 1778.1,560 1779.1,479.4 1780.1,401 1780.9,356.7 1781.7,315.8 1782.5,285.7 1783.2,274 1784.1,280.7 1784.9,298.1 1785.8,322.7 1786.6,350.6 1787.5,378 1788.3,406.9 1789.2,440.6 1790.1,480 1790.7,519.6 1791.4,560 1792.2,600.1 1793,636.1 1793.8,669 1794.7,700 1795.7,734.7 1796.7,766.4 1797.7,796.7 1798.7,827.4 1799.7,860 1800.2,883.3 1800.9,903 1801.7,919.9 1802.6,932.6 1803.5,942 1804.3,950 1805.2,954 1806.2,949.1 1807.2,938.4 1808.2,928 1809,919.9 1809.9,911.2 1810.8,904 1811.7,900 1812.5,898.4 1813.4,897.1 1814.2,896.1 1815.1,895.4 1816,895.2 1816.9,895.7 1817.8,896.9 1818.7,898.3 1819.7,899.5 1820.5,900.5 1821.3,901.5 1822.2,902 1822.9,901.3 1823.5,899.5 1824.2,897 1825,891.7 1825.9,883.6 1826.7,875 1827.4,867.2 1828.2,859 1829,850 1829.8,839.8 1830.6,828.9 1831.4,817.1 1832.2,804.6 1833.1,789.7 1834,774 1834.9,757.4 1835.8,739.7 1836.7,720.8 1837.6,700.7 1838.5,674.5 1839.5,643.6 1840.5,611.7 1841.5,582.6 1842.5,560 1843.2,547.5 1843.9,536.9 1844.7,528 1845.5,518.5 1846.2,513.5 1847.2,517.1 1848.1,526.3 1849,538.4 1849.9,551 1850.8,564.4 1851.7,579.9 1852.6,597.3 1853.5,616.3 1854.4,636.4 1855.3,657.3 1856.2,678.8 1857.2,700.5 1858.1,722.7 1859,746.4 1859.9,771.2 1860.8,797 1861.7,823.3 1862.6,850 1863.4,874.3 1864.2,900 1864.9,924.7 1865.6,947.9 1866.4,969.1 1867.2,989.7 1868,1011 1868.7,1034 1869.4,1057.4 1870.2,1075.8 1870.9,1090.1 1871.7,1102.7 1872.5,1112.6 1873.2,1119 1874.1,1123.4 1875,1126.9 1875.9,1129.7 1876.8,1132 1877.7,1134 1878.7,1136.2 1879.7,1138.2 1880.7,1140.1 1881.7,1141.8 1882.7,1143.2 1883.7,1144.3 1884.7,1145 1885.7,1145.5 1886.7,1145.9 1887.7,1146.3 1888.7,1146.6 1889.7,1147 1890.7,1147.2 1891.7,1147.5 1892.7,1147.7 1893.7,1147.9 1894.7,1148.1 1895.7,1148.3 1896.7,1148.4 1897.7,1148.5 1898.7,1148.6 1899.7,1148.7 1900.7,1148.8 1901.7,1148.9 1902.7,1148.9 1903.7,1149 1904.7,1149 1943.7,1149"/>
<polyline transform="translate(0.7,0)" points="408.6,1149 573.6,1149 574.5,1148.7 575.4,1148.1 576.3,1147.1 577.1,1146 578,1144.3 578.9,1141.9 579.8,1139.3 580.6,1137 581.5,1134.8 582.4,1132.5 583.4,1130.7 584.2,1130 585.1,1130.7 585.9,1132.5 586.8,1134.8 587.6,1137 588.6,1139.9 589.6,1142.9 590.6,1145 591.5,1146 592.4,1146.8 593.3,1147.3 594.1,1147.5 595,1147.2 595.9,1146.5 596.9,1145.4 597.8,1144.2 598.6,1143 599.5,1141.6 600.4,1139.9 601.3,1138.3 602.1,1137 602.9,1136.1 603.7,1135.3 604.5,1134.7 605.2,1134.5 606.1,1134.9 606.9,1135.8 607.8,1136.9 608.6,1138 609.6,1139.3 610.6,1140.7 611.6,1142.2 612.6,1143.5 613.6,1144.5 614.6,1145.3 615.6,1146.1 616.6,1146.8 617.6,1147.4 618.6,1147.9 619.6,1148.3 620.6,1148.5 621.6,1148.6 622.6,1148.7 623.6,1148.8 624.6,1148.8 625.6,1148.9 626.6,1148.9 627.6,1149 628.6,1149 629.6,1149 721.6,1149 722.6,1148.9 723.6,1148.7 724.6,1148.4 725.6,1148 726.6,1147.3 727.6,1146.2 728.6,1145 729.6,1144 730.6,1143.2 731.6,1142.4 732.6,1141.6 733.6,1140.9 734.6,1140.5 735.5,1140.3 736.4,1140.4 737.2,1140.8 738.1,1141.3 738.9,1141.8 739.8,1142.4 740.6,1143 741.5,1143.6 742.3,1144.4 743.2,1145.2 744,1145.8 744.9,1146 745.8,1145.7 746.8,1145 747.7,1144.2 748.6,1143.5 749.6,1143 750.6,1142.4 751.5,1142 752.5,1141.6 753.4,1141.5 754.3,1141.6 755.2,1142 756,1142.4 756.9,1143 757.8,1143.5 758.6,1144 759.6,1144.5 760.6,1145 761.6,1145.5 762.6,1146 763.6,1146.5 764.6,1147 765.6,1147.5 766.5,1147.9 767.5,1148.3 768.4,1148.5 769.3,1148.6 770.2,1148.7 771.1,1148.8 772,1148.9 772.9,1149 773.8,1149 774.6,1149 821.6,1149 822.6,1149 823.6,1148.8 824.6,1148.7 825.6,1148.5 826.6,1148.3 827.6,1148.1 828.5,1147.8 829.5,1147.6 830.5,1147.3 831.4,1147 832.3,1146.8 833.2,1146.5 834.1,1146.3 835,1146.1 835.9,1145.8 836.8,1145.4 837.6,1145 838.6,1144.1 839.6,1142.8 840.6,1141.3 841.6,1140 842.6,1138.7 843.6,1137.3 844.5,1136 845.5,1135 846.4,1134.6 847.3,1134.8 848.2,1135.2 849,1135.9 849.9,1136.6 850.8,1137.4 851.6,1138 852.6,1138.7 853.6,1139.3 854.6,1140 855.6,1140.7 856.6,1141.3 857.6,1142 858.6,1142.7 859.6,1143.4 860.6,1144.1 861.6,1144.8 862.6,1145.4 863.6,1146 864.6,1146.6 865.6,1147.2 866.6,1147.8 867.6,1148.2 868.6,1148.5 869.6,1148.6 870.6,1148.8 871.6,1148.9 872.6,1148.9 873.6,1149 874.6,1149 1092.7,1149 1093.6,1148.9 1094.5,1148.8 1095.4,1148.6 1096.2,1148.3 1097.2,1148 1098.1,1147.6 1099,1147 1099.9,1146.3 1100.9,1145.5 1101.8,1144.6 1102.7,1143.8 1103.7,1143 1104.6,1142.1 1105.5,1141.2 1106.4,1140.1 1107.3,1139.1 1108.2,1138.3 1109.1,1137.7 1110.1,1137.5 1111,1137.7 1111.9,1138.3 1112.9,1139.2 1113.8,1140.1 1114.7,1141.1 1115.7,1142 1116.6,1142.8 1117.5,1143.8 1118.4,1144.8 1119.2,1145.9 1120.2,1146.8 1121.1,1147.6 1122,1148.2 1122.9,1148.5 1123.8,1148.7 1124.8,1148.8 1125.7,1148.9 1126.7,1149 1127.7,1149 1235.7,1149 1236.7,1149 1237.7,1148.8 1238.7,1148.7 1239.7,1148.5 1240.6,1148.2 1241.5,1147.8 1242.5,1147.3 1243.4,1146.9 1244.4,1146.4 1245.3,1146.1 1246.2,1146 1247.2,1146.1 1248.1,1146.2 1249.1,1146.4 1250,1146.7 1251,1147.1 1251.9,1147.4 1252.8,1147.7 1253.8,1148 1254.7,1148.3 1255.7,1148.5 1256.7,1148.7 1257.7,1148.8 1258.7,1149 1259.7,1149 1331.7,1149 1332.6,1148.9 1333.6,1148.8 1334.6,1148.6 1335.5,1148.3 1336.5,1148 1337.5,1147.7 1338.4,1147.4 1339.4,1147.2 1340.4,1147.1 1341.4,1147 1342.3,1147 1343.2,1147.1 1344.1,1147.3 1345,1147.5 1346,1147.7 1346.9,1148 1347.8,1148.2 1348.7,1148.4 1349.7,1148.5 1350.7,1148.6 1351.7,1148.8 1352.7,1148.9 1353.7,1149 1354.7,1149 1455.7,1149 1456.6,1148.9 1457.5,1148.6 1458.4,1148.2 1459.3,1147.6 1460.2,1147 1461.1,1146 1462,1144.4 1462.9,1142.4 1463.8,1140.2 1464.7,1138 1465.5,1135.4 1466.4,1132.3 1467.3,1129.3 1468.2,1127 1469.1,1125.2 1470,1123.4 1470.8,1122.2 1471.8,1121.7 1472.6,1122.2 1473.5,1123.4 1474.3,1125.1 1475.2,1127 1476.2,1130.9 1477.2,1136.1 1478.2,1140 1479,1141.8 1479.8,1143.4 1480.6,1144.6 1481.4,1145.6 1482.2,1146 1483.1,1146.2 1484,1146.3 1484.9,1146.4 1485.8,1146.5 1486.7,1146.5 1487.4,1146.1 1488.2,1144.9 1489,1142.9 1489.8,1140 1490.7,1126.3 1491.3,1106.5 1492,1083.2 1492.7,1063.7 1493.5,1040 1494.1,1002 1494.8,966 1495.5,935.7 1496.2,916 1497.1,903.8 1498,895.2 1498.8,888 1499.7,880 1500.5,868.9 1501.3,857.7 1502.2,852.6 1503,858.2 1503.8,869.9 1504.7,880 1505.5,886.9 1506.3,892.8 1507.2,896 1508.2,896.9 1509.2,897.3 1510.2,898.5 1510.9,915.6 1511.7,950.8 1512.5,979.7 1513.4,1002.6 1514.1,1016.7 1514.8,1028.5 1515.5,1040 1516.3,1055.1 1517.2,1069.9 1518.1,1083 1518.8,1092.7 1519.5,1101.4 1520.2,1109 1521,1115.6 1521.7,1121.3 1522.5,1126.3 1523.3,1131.3 1524.1,1135.7 1525,1139 1525.9,1141.6 1526.8,1143.6 1527.7,1145 1528.6,1146 1529.5,1147 1530.5,1147.7 1531.4,1148.2 1532.4,1148.5 1533.3,1148.6 1534.2,1148.7 1535.1,1148.8 1536,1148.9 1536.9,1148.9 1537.8,1149 1538.7,1149 1539.7,1149 1667.7,1149 1668.6,1148.8 1669.5,1148.4 1670.5,1147.5 1671.2,1144 1672,1135 1672.7,1122.4 1673.5,1109 1674,1099.6 1674.6,1091.8 1675.4,1084.2 1676.2,1078.8 1677.1,1075 1678,1072.2 1678.8,1069.4 1679.7,1065.9 1680.5,1059.7 1681.4,1052.4 1682.2,1049 1683,1051 1683.9,1055.9 1684.7,1062 1685.2,1069.1 1685.9,1076 1686.5,1080.4 1687.2,1082.5 1688.2,1081.8 1689.2,1081 1691.2,1081 1691.9,1082.8 1692.7,1086 1693.3,1088.5 1694,1091.8 1694.8,1100.1 1695.7,1109 1696.5,1114.2 1697.2,1118.5 1698.1,1122.3 1698.9,1126.3 1699.7,1130.8 1700.6,1135 1701.3,1138.3 1702,1141.4 1702.8,1143.6 1703.7,1145.6 1704.7,1146.5 1705.7,1146.2 1706.7,1145.6 1707.7,1145.2 1708.7,1145 1709.7,1144.9 1710.7,1144.8 1711.7,1144.8 1712.7,1144.8 1713.7,1144.9 1714.7,1145 1715.7,1145.2 1716.7,1145.6 1717.7,1146.3 1718.7,1147 1719.5,1147.5 1720.3,1148 1721.1,1148.5 1722,1148.7 1722.9,1148.8 1723.8,1148.9 1724.7,1149 1725.7,1149 1748.7,1149 1749.4,1148.9 1750.2,1148.4 1751,1147.5 1751.7,1142.4 1752.7,1128 1753.4,1119 1754.2,1110 1754.9,1100 1755.5,1089.8 1756.2,1080 1757,1070.2 1757.8,1061.3 1758.6,1052 1759.4,1040.9 1760.2,1030.4 1760.9,1022.7 1761.7,1016 1762.4,1009.8 1763.1,1005.2 1763.8,1002.8 1764.5,1001.1 1765.2,1000 1766.2,999.2 1767.2,998.6 1768.2,997.5 1768.8,994.2 1769.4,987 1769.8,975 1770.2,968 1771,939.4 1771.9,903 1772.9,860 1773.6,810.9 1774.2,751.1 1775,700 1775.7,661.5 1776.5,630.4 1777.3,599.1 1778.1,560 1779.1,479.4 1780.1,401 1780.9,356.7 1781.7,315.8 1782.5,285.7 1783.2,274 1784.1,280.7 1784.9,298.1 1785.8,322.7 1786.6,350.6 1787.5,378 1788.3,406.9 1789.2,440.6 1790.1,480 1790.7,519.6 1791.4,560 1792.2,600.1 1793,636.1 1793.8,669 1794.7,700 1795.7,734.7 1796.7,766.4 1797.7,796.7 1798.7,827.4 1799.7,860 1800.2,883.3 1800.9,903 1801.7,919.9 1802.6,932.6 1803.5,942 1804.3,950 1805.2,954 1806.2,949.1 1807.2,938.4 1808.2,928 1809,919.9 1809.9,911.2 1810.8,904 1811.7,900 1812.5,898.4 1813.4,897.1 1814.2,896.1 1815.1,895.4 1816,895.2 1816.9,895.7 1817.8,896.9 1818.7,898.3 1819.7,899.5 1820.5,900.5 1821.3,901.5 1822.2,902 1822.9,901.3 1823.5,899.5 1824.2,897 1825,891.7 1825.9,883.6 1826.7,875 1827.4,867.2 1828.2,859 1829,850 1829.8,839.8 1830.6,828.9 1831.4,817.1 1832.2,804.6 1833.1,789.7 1834,774 1834.9,757.4 1835.8,739.7 1836.7,720.8 1837.6,700.7 1838.5,674.5 1839.5,643.6 1840.5,611.7 1841.5,582.6 1842.5,560 1843.2,547.5 1843.9,536.9 1844.7,528 1845.5,518.5 1846.2,513.5 1847.2,517.1 1848.1,526.3 1849,538.4 1849.9,551 1850.8,564.4 1851.7,579.9 1852.6,597.3 1853.5,616.3 1854.4,636.4 1855.3,657.3 1856.2,678.8 1857.2,700.5 1858.1,722.7 1859,746.4 1859.9,771.2 1860.8,797 1861.7,823.3 1862.6,850 1863.4,874.3 1864.2,900 1864.9,924.7 1865.6,947.9 1866.4,969.1 1867.2,989.7 1868,1011 1868.7,1034 1869.4,1057.4 1870.2,1075.8 1870.9,1090.1 1871.7,1102.7 1872.5,1112.6 1873.2,1119 1874.1,1123.4 1875,1126.9 1875.9,1129.7 1876.8,1132 1877.7,1134 1878.7,1136.2 1879.7,1138.2 1880.7,1140.1 1881.7,1141.8 1882.7,1143.2 1883.7,1144.3 1884.7,1145 1885.7,1145.5 1886.7,1145.9 1887.7,1146.3 1888.7,1146.6 1889.7,1147 1890.7,1147.2 1891.7,1147.5 1892.7,1147.7 1893.7,1147.9 1894.7,1148.1 1895.7,1148.3 1896.7,1148.4 1897.7,1148.5 1898.7,1148.6 1899.7,1148.7 1900.7,1148.8 1901.7,1148.9 1902.7,1148.9 1903.7,1149 1904.7,1149 1943.7,1149"/>
</g>
<rect x="1272.5" y="123.5" width="455" height="184" fill="#fff" stroke="#000" stroke-width="3" shape-rendering="crispEdges"/>
<rect x="1322" y="166" width="61" height="8" rx="1.5" fill="#0070c0"/>
<rect x="1322" y="257.5" width="60" height="7.5" rx="1.5" fill="#ff0000"/>
<text x="1384.5" y="191">Cold start</text>
<text x="1384.3" y="283">Hot start</text>
<text transform="translate(147.7,1018) scale(1,1.041)">1<tspan class="x" dx="1.6" dy="-2.8">×</tspan><tspan dx="1.6" dy="2.8">10</tspan><tspan class="sup" dx="-1.0" dy="-20.2">12</tspan></text>
<text transform="translate(147.7,874) scale(1,1.041)">2<tspan class="x" dx="1.6" dy="-2.8">×</tspan><tspan dx="1.6" dy="2.8">10</tspan><tspan class="sup" dx="-1.0" dy="-20.2">12</tspan></text>
<text transform="translate(147.7,720) scale(1,1.041)">3<tspan class="x" dx="1.6" dy="-2.8">×</tspan><tspan dx="1.6" dy="2.8">10</tspan><tspan class="sup" dx="-1.0" dy="-20.2">12</tspan></text>
<text transform="translate(147.7,573) scale(1,1.041)">4<tspan class="x" dx="1.6" dy="-2.8">×</tspan><tspan dx="1.6" dy="2.8">10</tspan><tspan class="sup" dx="-1.0" dy="-20.2">12</tspan></text>
<text transform="translate(147.7,423) scale(1,1.041)">5<tspan class="x" dx="1.6" dy="-2.8">×</tspan><tspan dx="1.6" dy="2.8">10</tspan><tspan class="sup" dx="-1.0" dy="-20.2">12</tspan></text>
<text transform="translate(147.7,277) scale(1,1.041)">6<tspan class="x" dx="1.6" dy="-2.8">×</tspan><tspan dx="1.6" dy="2.8">10</tspan><tspan class="sup" dx="-1.0" dy="-20.2">12</tspan></text>
<text transform="translate(145.7,125) scale(1,1.041)">7<tspan class="x" dx="1.6" dy="-2.8">×</tspan><tspan dx="1.6" dy="2.8">10</tspan><tspan class="sup" dx="-1.0" dy="-20.2">12</tspan></text>
<text transform="translate(352,1171.5) scale(1,1.041)" text-anchor="end">0</text>
<text transform="translate(410,1252) scale(1,1.041)" text-anchor="middle">0</text>
<text transform="translate(669.5,1252) scale(1,1.041)" text-anchor="middle">200</text>
<text transform="translate(928.5,1252) scale(1,1.041)" text-anchor="middle">400</text>
<text transform="translate(1188.5,1252) scale(1,1.041)" text-anchor="middle">600</text>
<text transform="translate(1447.5,1252) scale(1,1.041)" text-anchor="middle">800</text>
<text transform="translate(1707.5,1252) scale(1,1.041)" text-anchor="middle">1000</text>
<text transform="translate(1967,1252) scale(1,1.041)" text-anchor="middle">1200</text>
<text class="b" x="1187.5" y="1339" text-anchor="middle">t [s]</text>
<text class="b" transform="translate(94,714) rotate(-90)">E<tspan class="sub" dy="16">PN</tspan><tspan dy="-16"> [1/s]</tspan></text>
</svg>
</body></html>
